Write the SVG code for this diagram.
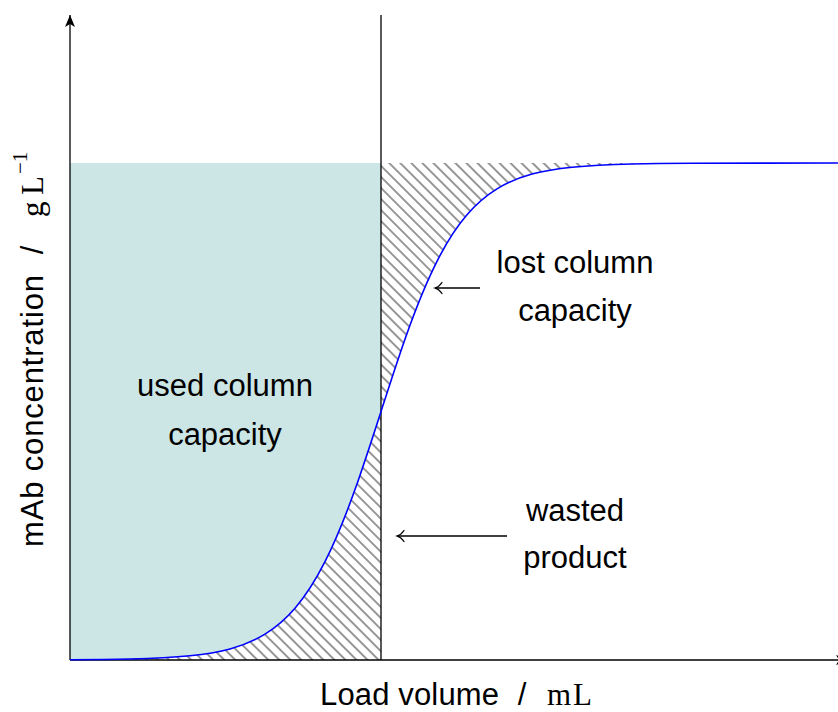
<svg xmlns="http://www.w3.org/2000/svg" width="838" height="712" viewBox="0 0 838 712">
  <style>
    .axis { stroke: #000; stroke-width: 1.3; fill: none; }
    .lbl { font-family: "Liberation Sans", Arial, sans-serif; font-size: 31px; fill: #000; }
    .math { font-family: "Liberation Serif", "Times New Roman", serif; font-size: 31px; fill: #000; }
    .sup { font-family: "Liberation Serif", "Times New Roman", serif; font-size: 21px; fill: #000; }
    .hatch { fill: url(#hatch); stroke: none; }
    .used { fill: #cce6e6; stroke: none; }
    .curve { stroke: #0000ff; stroke-width: 1.6; fill: none; }
    .pointer { stroke: #000; stroke-width: 1.3; fill: none; marker-end: url(#to); }
  </style>
  <defs>
    <pattern id="hatch" patternUnits="userSpaceOnUse" width="7.8" height="7.8" patternTransform="rotate(45)">
      <line x1="0" y1="3.9" x2="7.8" y2="3.9" stroke="#606060" stroke-width="1.3"/>
    </pattern>
    <marker id="axtip" markerUnits="userSpaceOnUse" markerWidth="16" markerHeight="14" refX="0" refY="0" viewBox="-13 -7 16 14" orient="auto" overflow="visible">
      <path d="M0,0 L-12,-5 L-9,0 L-12,5 Z" fill="#000"/>
    </marker>
    <marker id="to" markerUnits="userSpaceOnUse" markerWidth="12" markerHeight="12" refX="0" refY="0" viewBox="-9 -6 12 12" orient="auto" overflow="visible">
      <path d="M-7,-5.5 C-5,-2.5 -2,-0.6 0,0 C-2,0.6 -5,2.5 -7,5.5" stroke="#000" stroke-width="1.3" fill="none" stroke-linecap="round"/>
    </marker>
  </defs>

  <!-- regions under and over the breakthrough curve -->
  <g id="used-capacity">
    <path class="used" d="M70,659.8 C90,659.7 110,659.54 130,659.07 C150,658.6 170,657.86 190,655.8 C203.33,654.43 216.67,652.53 230,648.9 C241.67,645.72 253.33,641.27 265,634.1 C275,627.96 285,619.81 295,608.2 C305,596.59 315,581.42 325,561.7 C335,541.98 345,517.59 355,489.6 C363.67,465.34 372.33,438.42 381,411.5 L381,163 L70,163 Z"/>
  </g>
  <g id="wasted-product-area">
    <path class="hatch" d="M70,660 L70,659.8 C90,659.7 110,659.54 130,659.07 C150,658.6 170,657.86 190,655.8 C203.33,654.43 216.67,652.53 230,648.9 C241.67,645.72 253.33,641.27 265,634.1 C275,627.96 285,619.81 295,608.2 C305,596.59 315,581.42 325,561.7 C335,541.98 345,517.59 355,489.6 C363.67,465.34 372.33,438.42 381,411.5 L381,660 Z"/>
  </g>
  <g id="lost-capacity-area">
    <path class="hatch" d="M381,411.5 C389.67,384.58 398.33,357.66 407,333.4 C417,305.41 427,281.02 437,261.3 C447,241.58 457,226.41 467,214.8 C477,203.19 487,195.04 497,188.9 C508.67,181.73 520.33,177.28 532,174.1 C545.33,170.47 558.67,168.57 572,167.2 C592,165.14 612,164.4 632,163.93 C652,163.46 672,163.3 692,163.2 L838,163 L381,163 Z"/>
  </g>

  <!-- axes and the loading cut-off line -->
  <g id="axes">
    <line class="axis" x1="70" y1="660" x2="70" y2="15" marker-end="url(#axtip)"/>
    <line class="axis" x1="70" y1="660" x2="848" y2="660" marker-end="url(#axtip)"/>
    <line class="axis" x1="381" y1="15" x2="381" y2="660"/>
  </g>

  <!-- breakthrough curve -->
  <g id="breakthrough-curve">
    <path class="curve" d="M70,659.8 C90,659.7 110,659.54 130,659.07 C150,658.6 170,657.86 190,655.8 C203.33,654.43 216.67,652.53 230,648.9 C241.67,645.72 253.33,641.27 265,634.1 C275,627.96 285,619.81 295,608.2 C305,596.59 315,581.42 325,561.7 C335,541.98 345,517.59 355,489.6 C363.67,465.34 372.33,438.42 381,411.5 C389.67,384.58 398.33,357.66 407,333.4 C417,305.41 427,281.02 437,261.3 C447,241.58 457,226.41 467,214.8 C477,203.19 487,195.04 497,188.9 C508.67,181.73 520.33,177.28 532,174.1 C545.33,170.47 558.67,168.57 572,167.2 C592,165.14 612,164.4 632,163.93 C652,163.46 672,163.3 692,163.2 L838,163"/>
  </g>

  <!-- annotation pointers -->
  <g id="connectors">
    <line class="pointer" x1="480" y1="288" x2="435" y2="288"/>
    <line class="pointer" x1="507" y1="536" x2="397" y2="536"/>
  </g>

  <g id="label-used">
    <text class="lbl" x="225" y="396" text-anchor="middle">used column</text>
    <text class="lbl" x="225" y="445" text-anchor="middle">capacity</text>
  </g>
  <g id="label-lost">
    <text class="lbl" x="575" y="273" text-anchor="middle">lost column</text>
    <text class="lbl" x="575" y="321" text-anchor="middle">capacity</text>
  </g>
  <g id="label-wasted">
    <text class="lbl" x="575" y="521" text-anchor="middle">wasted</text>
    <text class="lbl" x="575" y="568" text-anchor="middle">product</text>
  </g>

  <g id="x-label">
    <text class="lbl" x="320" y="705" textLength="179">Load volume</text>
    <text class="lbl" x="522" y="705" text-anchor="middle">/</text>
    <text class="math" x="547" y="705">m</text>
    <text class="math" x="573" y="705">L</text>
  </g>

  <g id="y-label" transform="translate(43,547) rotate(-90)">
    <text class="lbl" x="0" y="0" font-size="32" textLength="272">mAb concentration</text>
    <text class="lbl" x="297" y="0" text-anchor="middle">/</text>
    <text class="math" x="330" y="0">g</text>
    <text class="math" x="352" y="0">L</text>
    <text class="sup" x="373" y="-16">−1</text>
  </g>
</svg>
